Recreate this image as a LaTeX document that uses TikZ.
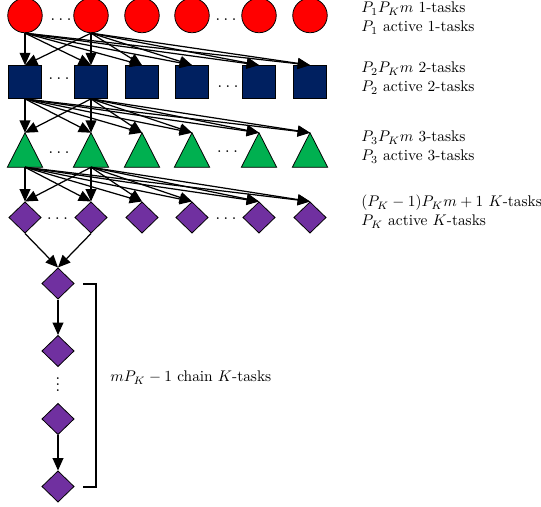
\documentclass[tikz,border=0pt]{standalone}
\usetikzlibrary{shapes.geometric,arrows.meta}
\definecolor{taskred}{RGB}{255,0,0}
\definecolor{tasknavy}{RGB}{0,32,96}
\definecolor{taskgreen}{RGB}{0,176,80}
\definecolor{taskpurple}{RGB}{112,48,160}
\begin{document}
\begin{tikzpicture}[x=0.649pt,y=-0.649pt,
  onetask/.style={circle,draw=black,fill=taskred,line width=0.5pt,minimum size=22.4pt,inner sep=0pt},
  twotask/.style={rectangle,draw=black,fill=tasknavy,line width=0.5pt,minimum size=21.4pt,inner sep=0pt},
  threebox/.style={rectangle,minimum width=22.5pt,minimum height=22pt,inner sep=0pt},
  threetask/.style={draw=black,fill=taskgreen,line width=0.5pt,line join=miter},
  ktask/.style={diamond,aspect=1,draw=black,fill=taskpurple,line width=0.5pt,minimum width=21pt,minimum height=20.3pt,inner sep=0pt},
  dep/.style={-{Triangle[length=8pt,width=7pt]},line width=0.8pt},
  gap/.style={inner sep=0pt,font=\large},
  lbl/.style={anchor=base west,inner sep=0pt},
  brace/.style={line width=0.8pt}]
\useasboundingbox (0,0) rectangle (541,507);

% four rows of tasks, six columns each
\foreach \x [count=\i] in {25,91,142,192,259,310} {
  \node[onetask]  (a\i) at (\x,15.5) {};
  \node[twotask]  (b\i) at (\x,82) {};
  \node[threebox] (c\i) at (\x,150) {};
  \node[ktask]    (d\i) at (\x,217.5) {};
}
% 3-tasks are triangles inside their boxes
\foreach \i in {1,...,6}
  \draw[threetask] (c\i.south west) -- (c\i.south east) -- (c\i.north) -- cycle;

% elision dots between columns
\node[gap] (ga1) at (61,19.5)   {$\ldots$};
\node[gap] (ga2) at (226,19.5)  {$\ldots$};
\node[gap] (gb1) at (59,79)     {$\ldots$};
\node[gap] (gb2) at (228,87)    {$\ldots$};
\node[gap] (gc1) at (59,152.5)  {$\ldots$};
\node[gap] (gc2) at (227.5,152) {$\ldots$};
\node[gap] (gd1) at (57.5,219)  {$\ldots$};
\node[gap] (gd2) at (226,219)   {$\ldots$};

% dependencies between consecutive rows
\foreach \s in {1,2} {
  \foreach \t in {1,...,6} {
    \draw[dep] (a\s.south) -- (b\t.north);
    \draw[dep] (b\s.south) -- (c\t.north);
    \draw[dep] (c\s.south) -- (d\t.north);
  }
}

% chain of K-tasks
\node[ktask] (ch1) at (58,283.5) {};
\node[ktask] (ch2) at (58,351) {};
\node[gap,anchor=south] (vd) at (58,392) {$\vdots$};
\node[ktask] (ch3) at (58,419) {};
\node[ktask] (ch4) at (58,486.5) {};
\draw[dep] (d1.south) -- (ch1.north);
\draw[dep] (d2.south) -- (ch1.north);
\draw[dep] (ch1.south) -- (ch2.north);
\draw[dep] (ch3.south) -- (ch4.north);

% bracket around the chain
\coordinate (br1) at (83,284);
\coordinate (br2) at (96,284);
\coordinate (br3) at (96,487);
\coordinate (br4) at (83,487);
\draw[brace] (br1) -- (br2) -- (br3) -- (br4);
\node[lbl] (chl) at (110,382) {$mP_K-1$ chain $K$-tasks};

% row descriptions
\node[lbl] (l1a) at (361,13)  {$P_1P_Km$ 1-tasks};
\node[lbl] (l1b) at (361,32)  {$P_1$ active 1-tasks};
\node[lbl] (l2a) at (361,73)  {$P_2P_Km$ 2-tasks};
\node[lbl] (l2b) at (361,92)  {$P_2$ active 2-tasks};
\node[lbl] (l3a) at (361,142) {$P_3P_Km$ 3-tasks};
\node[lbl] (l3b) at (361,161) {$P_3$ active 3-tasks};
\node[lbl] (l4a) at (361,207) {$(P_K-1)P_Km+1$ $K$-tasks};
\node[lbl] (l4b) at (361,226) {$P_K$ active $K$-tasks};
\end{tikzpicture}
\end{document}
